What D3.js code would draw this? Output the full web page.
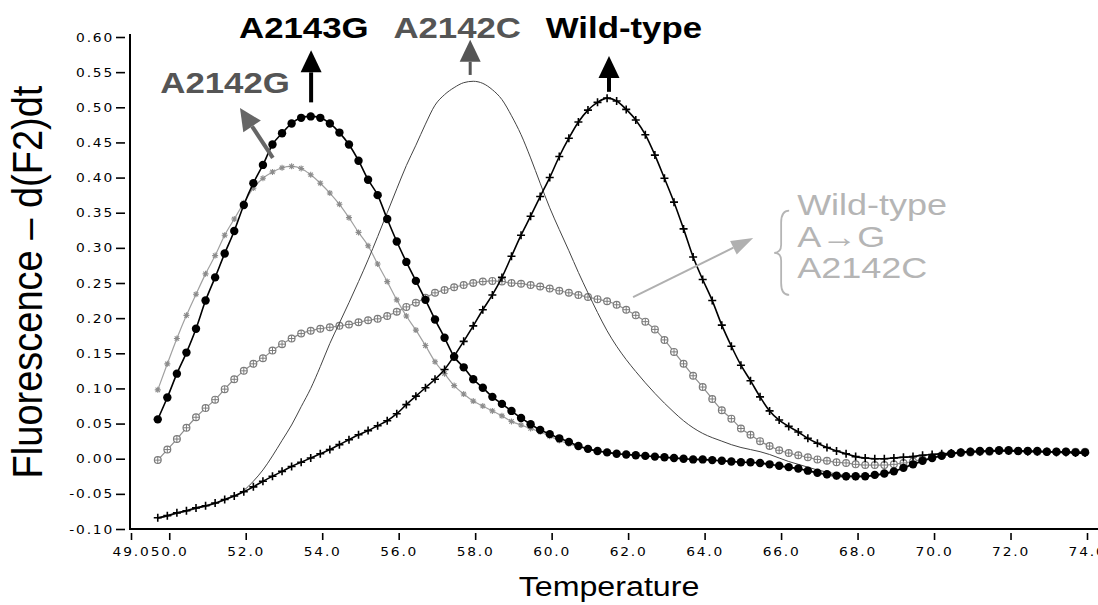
<!DOCTYPE html>
<html>
<head>
<meta charset="utf-8">
<script src="https://cdn.jsdelivr.net/npm/d3@7"></script>
<style>
  body { margin: 0; background: #fff; }
  svg { display: block; }
</style>
</head>
<body>
<svg id="chart" width="1098" height="605"></svg>
<script>
// melting curves, -d(F2)/dt vs temperature (one reading every 0.25 C)
var temps = [
  49.70,49.95,50.20,50.45,50.70,50.95,51.20,51.45,51.70,51.95,
  52.20,52.45,52.70,52.95,53.20,53.45,53.70,53.95,54.20,54.45,
  54.70,54.95,55.20,55.45,55.70,55.95,56.20,56.45,56.70,56.95,
  57.20,57.45,57.70,57.95,58.20,58.45,58.70,58.95,59.20,59.45,
  59.70,59.95,60.20,60.45,60.70,60.95,61.20,61.45,61.70,61.95,
  62.20,62.45,62.70,62.95,63.20,63.45,63.70,63.95,64.20,64.45,
  64.70,64.95,65.20,65.45,65.70,65.95,66.20,66.45,66.70,66.95,
  67.20,67.45,67.70,67.95,68.20,68.45,68.70,68.95,69.20,69.45,
  69.70,69.95,70.20,70.45,70.70,70.95,71.20,71.45,71.70,71.95,
  72.20,72.45,72.70,72.95,73.20,73.45,73.70,73.95
];

var wildType = [
  -0.084,-0.081,-0.077,-0.074,-0.070,-0.067,-0.063,-0.058,-0.053,-0.047,
  -0.040,-0.032,-0.025,-0.018,-0.011,-0.005,0.001,0.007,0.013,0.020,
  0.027,0.034,0.040,0.047,0.054,0.064,0.077,0.089,0.101,0.113,
  0.127,0.146,0.167,0.189,0.212,0.233,0.258,0.288,0.318,0.345,
  0.373,0.400,0.430,0.456,0.479,0.496,0.507,0.513,0.509,0.497,
  0.482,0.461,0.432,0.399,0.365,0.327,0.287,0.255,0.225,0.190,
  0.160,0.133,0.111,0.088,0.068,0.055,0.046,0.038,0.029,0.022,
  0.016,0.011,0.007,0.003,0.001,0.000,0.000,0.001,0.002,0.003,
  0.005,0.006,0.007,0.008,0.009,0.010,0.010,0.011,0.011,0.011,
  0.011,0.010,0.010,0.010,0.009,0.009,0.008,0.008
];

var a2143g = [
  0.056,0.087,0.121,0.151,0.185,0.225,0.258,0.292,0.324,0.361,
  0.392,0.418,0.447,0.463,0.477,0.485,0.487,0.485,0.477,0.464,
  0.447,0.424,0.397,0.375,0.341,0.309,0.280,0.253,0.226,0.198,
  0.172,0.145,0.130,0.113,0.101,0.088,0.078,0.068,0.058,0.049,
  0.041,0.035,0.029,0.024,0.018,0.014,0.011,0.009,0.007,0.006,
  0.005,0.004,0.003,0.002,0.001,0.000,-0.001,-0.001,-0.002,-0.003,
  -0.004,-0.005,-0.005,-0.006,-0.008,-0.010,-0.012,-0.014,-0.017,-0.020,
  -0.022,-0.024,-0.025,-0.025,-0.025,-0.023,-0.021,-0.018,-0.013,-0.008,
  -0.003,0.001,0.004,0.007,0.009,0.010,0.011,0.011,0.012,0.012,
  0.011,0.011,0.011,0.010,0.010,0.010,0.009,0.009
];

var a2142g = [
  0.098,0.135,0.171,0.204,0.234,0.263,0.289,0.318,0.341,0.364,
  0.385,0.399,0.408,0.414,0.416,0.413,0.404,0.392,0.378,0.362,
  0.343,0.322,0.303,0.277,0.252,0.226,0.203,0.183,0.161,0.138,
  0.121,0.104,0.092,0.082,0.075,0.068,0.061,0.053,0.048,0.043,
  0.038,0.032,0.026,0.021,0.017,0.014,0.012,0.009,0.007,0.006,
  0.005,0.004,0.003,0.002,0.001,0.000,-0.001,-0.002,-0.002,-0.003,
  -0.004,-0.005,-0.006,-0.007,-0.009,-0.011,-0.013,-0.015,-0.018,-0.021,
  -0.024,-0.026,-0.027,-0.027,-0.026,-0.024,-0.022,-0.019,-0.014,-0.009,
  -0.004,0.000,0.004,0.006,0.008,0.009,0.010,0.011,0.011,0.011,
  0.011,0.011,0.010,0.010,0.010,0.009,0.009,0.009
];

// mixed sample (wild-type + A->G + A2142C)
var mixed = [
  -0.002,0.013,0.028,0.044,0.059,0.072,0.084,0.099,0.113,0.125,
  0.135,0.143,0.154,0.163,0.171,0.178,0.182,0.185,0.187,0.189,
  0.191,0.194,0.197,0.199,0.203,0.209,0.216,0.222,0.229,0.236,
  0.240,0.244,0.247,0.250,0.252,0.253,0.252,0.250,0.249,0.247,
  0.245,0.242,0.239,0.236,0.233,0.230,0.227,0.224,0.219,0.212,
  0.204,0.195,0.184,0.169,0.152,0.135,0.118,0.102,0.085,0.069,
  0.057,0.043,0.034,0.025,0.018,0.012,0.008,0.005,0.002,-0.001,
  -0.003,-0.005,-0.006,-0.008,-0.009,-0.009,-0.009,-0.008,-0.006,-0.004,
  -0.001,0.002,0.005,0.007,0.008,0.009,0.010,0.010,0.011,0.011,
  0.011,0.011,0.010,0.010,0.010,0.010,0.010,0.010
];

var a2142c = [
  -0.085,-0.082,-0.078,-0.075,-0.071,-0.068,-0.064,-0.059,-0.053,-0.045,
  -0.032,-0.016,0.004,0.026,0.048,0.074,0.100,0.131,0.164,0.193,
  0.222,0.252,0.283,0.316,0.350,0.384,0.417,0.446,0.476,0.503,
  0.518,0.528,0.535,0.537,0.534,0.525,0.511,0.488,0.461,0.428,
  0.392,0.357,0.326,0.296,0.265,0.236,0.208,0.182,0.160,0.141,
  0.124,0.108,0.093,0.079,0.066,0.054,0.044,0.036,0.030,0.025,
  0.020,0.016,0.013,0.010,0.006,0.001,-0.004,-0.008,-0.012,-0.016,
  -0.019,-0.022,-0.024,-0.025,-0.025,-0.024,-0.022,-0.018,-0.013,-0.008,
  -0.003,0.001,0.004,0.007,0.008,0.010,0.010,0.011,0.011,0.011,
  0.011,0.011,0.010,0.010,0.010,0.010,0.009,0.009
];

var xTicks = [49,50,52,54,56,58,60,62,64,66,68,70,72,74];
var yTicks = [0.60,0.55,0.50,0.45,0.40,0.35,0.30,0.25,0.20,0.15,0.10,0.05,0.00,-0.05,-0.10];

var svg = d3.select("#chart");

var x = d3.scaleLinear().domain([49, 74]).range([131, 1087]);
var y = d3.scaleLinear().domain([-0.1, 0.6]).range([529, 37]);

/* axes */
var yAxis = svg.append("g")
  .attr("transform", "translate(130,0)")
  .call(d3.axisLeft(y).tickValues(yTicks).tickFormat(function(d){ return d.toFixed(2); }).tickSize(0));
yAxis.select(".domain").remove();
yAxis.selectAll(".tick line").attr("x1", -5).attr("x2", -14).attr("stroke", "#000").attr("stroke-width", 1.6);
yAxis.selectAll(".tick text")
  .attr("x", null).attr("dy", "0.35em")
  .attr("transform", "translate(-16,0) scale(1.2,1)")
  .style("font-family", "'DejaVu Sans', sans-serif").style("font-size", "11.5px")
  .style("letter-spacing", "1.5px").attr("fill", "#000");

var xAxis = svg.append("g")
  .attr("transform", "translate(0,529)")
  .call(d3.axisBottom(x).tickValues(xTicks).tickFormat(function(d){ return d.toFixed(1); }).tickSize(0));
xAxis.select(".domain").remove();
xAxis.selectAll(".tick line").attr("y1", 4).attr("y2", 11).attr("stroke", "#000").attr("stroke-width", 1.6);
xAxis.selectAll(".tick text")
  .attr("y", null).attr("dy", null)
  .attr("transform", "translate(0,27) scale(1.2,1)")
  .style("font-family", "'DejaVu Sans', sans-serif").style("font-size", "11.5px")
  .style("letter-spacing", "1.5px").attr("fill", "#000");

svg.append("line").attr("x1", 130).attr("x2", 130).attr("y1", 34).attr("y2", 530)
  .attr("stroke", "#000").attr("stroke-width", 2);
svg.append("line").attr("x1", 129).attr("x2", 1098).attr("y1", 529).attr("y2", 529)
  .attr("stroke", "#000").attr("stroke-width", 2);

/* axis titles */
svg.append("text")
  .attr("transform", "translate(42,282) scale(1.1,1) rotate(-90)")
  .attr("text-anchor", "middle")
  .style("font-family", "'Liberation Sans', Arial, sans-serif").style("font-size", "38px")
  .text("Fluorescence \u2013 d(F2)dt");

svg.append("text")
  .attr("transform", "translate(609,596) scale(1.15,1)")
  .attr("text-anchor", "middle")
  .style("font-family", "'Liberation Sans', Arial, sans-serif").style("font-size", "28px")
  .text("Temperature");

/* curves */
var line = d3.line()
  .x(function(d){ return x(d[0]); })
  .y(function(d){ return y(d[1]); })
  .curve(d3.curveMonotoneX);

function pts(vals) {
  return temps.map(function(t, i){ return [t, vals[i]]; });
}

function drawSeries(vals, stroke, width, marker) {
  var data = pts(vals);
  svg.append("path").datum(data)
    .attr("d", line).attr("fill", "none")
    .attr("stroke", stroke).attr("stroke-width", width);
  if (!marker) return;
  var g = svg.append("g");
  g.selectAll("g").data(data).enter().append("g")
    .attr("transform", function(d){ return "translate(" + x(d[0]) + "," + y(d[1]) + ")"; })
    .each(marker);
}

function starMark(color) {
  return function() {
    d3.select(this).append("path")
      .attr("d", "M-3,0H3M0,-3V3M-2.2,-2.2L2.2,2.2M-2.2,2.2L2.2,-2.2")
      .attr("stroke", color).attr("stroke-width", 1.1).attr("fill", "none");
  };
}
function ringMark(color) {
  return function() {
    var s = d3.select(this);
    s.append("circle").attr("r", 3.4).attr("fill", "#fff").attr("stroke", color).attr("stroke-width", 1.2);
    s.append("path").attr("d", "M-3.4,0H3.4M0,-3.4V3.4").attr("stroke", color).attr("stroke-width", 1);
  };
}
function plusMark() {
  d3.select(this).append("path")
    .attr("d", "M-4,0H4M0,-4V4")
    .attr("stroke", "#000").attr("stroke-width", 1.6);
}
function dotMark() {
  d3.select(this).append("circle").attr("r", 4.2).attr("fill", "#000");
}

drawSeries(mixed, "#8e8e8e", 1.2, ringMark("#7c7c7c"));
drawSeries(a2142g, "#a0a0a0", 1.2, starMark("#8c8c8c"));
drawSeries(a2142c, "#444", 1, null);
drawSeries(a2143g, "#000", 1.6, dotMark);
drawSeries(wildType, "#000", 1.6, plusMark);

/* annotations */
function arrow(t1, v1, t2, v2, color, shaft, headL, headW) {
  var x1 = x(t1), y1 = y(v1), x2 = x(t2), y2 = y(v2);
  var dx = x2 - x1, dy = y2 - y1, len = Math.sqrt(dx * dx + dy * dy);
  var ux = dx / len, uy = dy / len;
  var bx = x2 - ux * headL, by = y2 - uy * headL;
  svg.append("line").attr("x1", x1).attr("y1", y1).attr("x2", bx).attr("y2", by)
    .attr("stroke", color).attr("stroke-width", shaft);
  svg.append("path")
    .attr("d", "M" + x2 + "," + y2 +
      "L" + (bx - uy * headW / 2) + "," + (by + ux * headW / 2) +
      "L" + (bx + uy * headW / 2) + "," + (by - ux * headW / 2) + "Z")
    .attr("fill", color);
}

function label(txt, t, v, color, size, bold, anchor) {
  svg.append("text")
    .attr("transform", "translate(" + x(t) + "," + y(v) + ") scale(1.2,1)")
    .attr("text-anchor", anchor || "middle")
    .attr("fill", color)
    .style("font-family", "'Liberation Sans', Arial, sans-serif")
    .style("font-size", size + "px")
    .style("font-weight", bold ? "bold" : "normal")
    .text(txt);
}

label("A2143G", 53.52, 0.598, "#000", 29, true);
label("A2142C", 57.53, 0.598, "#555", 29, true);
label("Wild-type", 61.89, 0.598, "#000", 29, true);
label("A2142G", 51.46, 0.520, "#555", 29, true);

arrow(53.71, 0.507, 53.71, 0.581, "#000", 4, 22, 21);
arrow(57.87, 0.546, 57.87, 0.596, "#555", 3, 22, 21);
arrow(61.50, 0.522, 61.50, 0.573, "#000", 4, 22, 21);
arrow(52.71, 0.428, 51.85, 0.499, "#666", 4, 22, 21);
arrow(62.13, 0.230, 65.27, 0.314, "#b0b0b0", 2, 22, 15);

// legend for the mixed sample
label("Wild-type", 66.42, 0.347, "#b5b5b5", 30, false, "start");
label("A\u2192G", 66.42, 0.301, "#b5b5b5", 30, false, "start");
label("A2142C", 66.42, 0.257, "#b5b5b5", 30, false, "start");

var bx0 = x(66.42) - 14, bt = y(0.353), bb = y(0.233), bm = (bt + bb) / 2;
svg.append("path")
  .attr("d", "M" + (bx0 + 6) + "," + bt +
    "Q" + (bx0 - 2) + "," + bt + " " + (bx0 - 2) + "," + (bt + 12) +
    "L" + (bx0 - 2) + "," + (bm - 8) +
    "Q" + (bx0 - 2) + "," + bm + " " + (bx0 - 9) + "," + bm +
    "Q" + (bx0 - 2) + "," + bm + " " + (bx0 - 2) + "," + (bm + 8) +
    "L" + (bx0 - 2) + "," + (bb - 12) +
    "Q" + (bx0 - 2) + "," + bb + " " + (bx0 + 6) + "," + bb)
  .attr("fill", "none").attr("stroke", "#b5b5b5").attr("stroke-width", 1.8);
</script>
</body>
</html>
